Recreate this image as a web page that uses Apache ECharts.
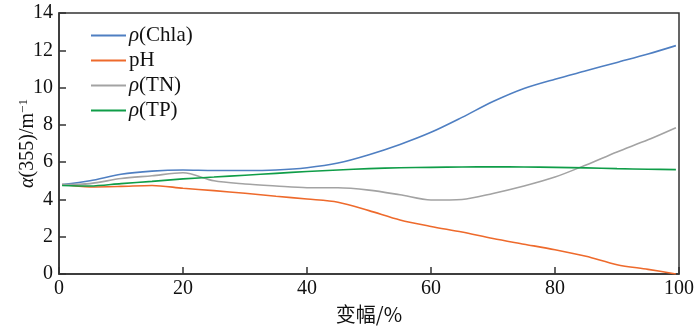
<!DOCTYPE html>
<html><head><meta charset="utf-8">
<script src="https://cdn.jsdelivr.net/npm/echarts@6/dist/echarts.min.js"></script>
<style>html,body{margin:0;padding:0;background:#fff}#c{width:700px;height:328px}</style>
</head><body><div id="c"></div>
<script>
var xVals = [0.5, 5, 10, 15, 20, 25, 30, 35, 40, 45, 50, 55, 60, 65, 70, 75, 80, 85, 90, 95, 99.5];
var chla = [4.8, 5.0, 5.35, 5.52, 5.58, 5.55, 5.55, 5.58, 5.7, 5.95, 6.4, 6.95, 7.6, 8.4, 9.25, 9.95, 10.45, 10.9, 11.35, 11.8, 12.25];
var ph   = [4.8, 4.67, 4.7, 4.75, 4.6, 4.47, 4.33, 4.17, 4.02, 3.85, 3.4, 2.9, 2.55, 2.25, 1.9, 1.6, 1.3, 0.95, 0.5, 0.25, 0.0];
var tn   = [4.8, 4.85, 5.12, 5.27, 5.43, 5.0, 4.83, 4.72, 4.63, 4.63, 4.5, 4.25, 3.97, 4.0, 4.32, 4.72, 5.2, 5.85, 6.55, 7.2, 7.85];
var tp   = [4.75, 4.72, 4.85, 4.97, 5.1, 5.2, 5.3, 5.4, 5.5, 5.58, 5.65, 5.7, 5.72, 5.74, 5.75, 5.74, 5.72, 5.69, 5.65, 5.62, 5.6];
var seriesNames = ['ρ(Chla)', 'pH', 'ρ(TN)', 'ρ(TP)'];
var seriesColors = ['#4f7fc2', '#ee6a2c', '#a3a3a3', '#0f9d48'];
var xTicks = [0, 20, 40, 60, 80, 100];
var yTicks = [0, 2, 4, 6, 8, 10, 12, 14];

function pairs(ys){ return xVals.map(function(x,i){ return [x, ys[i]]; }); }
var allData = [chla, ph, tn, tp];
var serif = '"Liberation Serif", "DejaVu Serif", serif';
var chart = echarts.init(document.getElementById('c'), null, {renderer:'canvas'});
chart.setOption({
  animation: false,
  grid: {left: 59, top: 13, right: 21, bottom: 54, containLabel: false, outerBoundsMode: 'none',
    show: true, borderColor: '#333', borderWidth: 1.5, backgroundColor: 'transparent'},
  legend: {
    left: 86, top: 20, orient: 'vertical', itemGap: 4, itemWidth: 35, itemHeight: 2,
    icon: 'rect',
    data: seriesNames,
    formatter: function(n){ return n.indexOf('ρ') === 0 ? '{i|ρ}{t|' + n.slice(1) + '}' : '{t|' + n + '}'; },
    textStyle: {fontFamily: serif, fontSize: 21, color: '#111', padding: [0,0,0,-2],
      rich: {i: {fontFamily: serif, fontStyle: 'italic', fontSize: 21, color: '#111'}, t: {fontFamily: serif, fontSize: 21, color: '#111'}}}
  },
  xAxis: {
    type: 'value', min: 0, max: 100, interval: 20,
    name: '变幅/%', nameLocation: 'middle', nameGap: 30, nameMoveOverlap: false,
    nameTextStyle: {fontFamily: '"Noto Sans CJK SC", sans-serif', fontSize: 20, color: '#111'},
    axisLine: {lineStyle: {color: '#333', width: 1.5}},
    axisTick: {inside: true, length: 7, lineStyle: {color: '#333', width: 1.5}},
    axisLabel: {fontFamily: serif, fontSize: 20, color: '#111', margin: 5,
      formatter: function(v){ return xTicks.indexOf(v) >= 0 ? String(v) : ''; }},
    splitLine: {show: false}
  },
  yAxis: {
    type: 'value', min: 0, max: 14, interval: 2,
    name: '{i|α}{t|(355)/m}{s|−1}', nameLocation: 'middle', nameGap: 20, nameRotate: 90, nameMoveOverlap: false,
    nameTextStyle: {fontFamily: serif, fontSize: 20, color: '#111',
      rich: {i: {fontFamily: serif, fontStyle: 'italic', fontSize: 20, color: '#111'},
             t: {fontFamily: serif, fontSize: 20, color: '#111'},
             s: {fontFamily: serif, fontSize: 13, color: '#111', verticalAlign: 'top', padding: [0,0,9,0]}}},
    axisLine: {show: true, lineStyle: {color: '#333', width: 1.5}},
    axisTick: {show: true, inside: true, length: 7, lineStyle: {color: '#333', width: 1.5}},
    axisLabel: {fontFamily: serif, fontSize: 20, color: '#111', margin: 6,
      formatter: function(v){ return yTicks.indexOf(v) >= 0 ? String(v) : ''; }},
    splitLine: {show: false}
  },
  series: seriesNames.map(function(n, i){
    return {name: n, type: 'line', data: pairs(allData[i]), showSymbol: false, smooth: 0.3,
      lineStyle: {color: seriesColors[i], width: 1.6}, itemStyle: {color: seriesColors[i]}};
  })
});
</script></body></html>
